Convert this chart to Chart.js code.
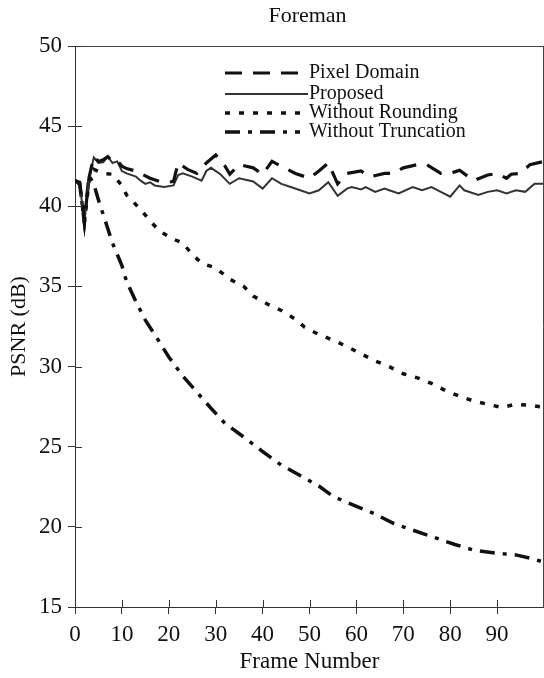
<!DOCTYPE html>
<html>
<head>
<meta charset="utf-8">
<script src="https://cdn.jsdelivr.net/npm/chart.js@4/dist/chart.umd.min.js"></script>
<style>
html,body{margin:0;padding:0;background:#fff;}
#wrap{width:544px;height:678px;}
</style>
</head>
<body>
<div id="wrap"><canvas id="c" width="544" height="678"></canvas></div>
<script>
const chartTitle = 'Foreman';
const xAxisTitle = 'Frame Number';
const yAxisTitle = 'PSNR (dB)';
const seriesNames = ['Pixel Domain', 'Proposed', 'Without Rounding', 'Without Truncation'];
const xTickValues = [0, 10, 20, 30, 40, 50, 60, 70, 80, 90, 100];
const xTickLabels = ['0', '10', '20', '30', '40', '50', '60', '70', '80', '90', ''];
const yTickValues = [15, 20, 25, 30, 35, 40, 45, 50];

const pixelFrames = [0, 1, 2, 3, 4, 5, 6, 7, 8, 9, 10, 11, 13, 16, 18, 20, 21, 22, 24, 26, 28, 30, 32, 33, 35, 38, 40, 42, 44, 47, 50, 52, 54, 55, 56, 58, 61, 63, 66, 68, 70, 73, 75, 78, 80, 82, 85, 88, 90, 92, 93, 95, 97, 100];
const pixelPsnr   = [41.6, 41.5, 39.1, 41.8, 43.1, 42.8, 42.9, 43.1, 42.8, 42.85, 42.5, 42.35, 42.2, 41.75, 41.55, 41.5, 41.55, 42.7, 42.3, 42.05, 42.7, 43.2, 42.5, 42.0, 42.6, 42.4, 42.0, 42.8, 42.5, 42.05, 41.75, 42.2, 42.7, 42.05, 41.4, 42.05, 42.2, 41.85, 42.05, 42.05, 42.4, 42.6, 42.6, 42.05, 42.05, 42.25, 41.6, 41.95, 42.05, 41.75, 42.0, 42.05, 42.6, 42.8];

const proposedFrames = [0, 1, 2, 3, 4, 5, 6, 7, 8, 9, 10, 11, 13, 14, 15, 16, 17, 19, 21, 22, 23, 25, 27, 28, 29, 31, 33, 35, 38, 40, 42, 44, 46, 50, 52, 54, 56, 58, 59, 61, 62, 64, 66, 67, 69, 72, 74, 76, 78, 80, 82, 83, 86, 88, 90, 92, 94, 96, 98, 100];
const proposedPsnr   = [41.5, 41.4, 39.0, 41.7, 43.05, 42.7, 42.75, 43.1, 42.7, 42.8, 42.2, 42.05, 41.85, 41.6, 41.4, 41.5, 41.3, 41.2, 41.3, 41.95, 42.05, 41.85, 41.6, 42.2, 42.4, 42.0, 41.4, 41.75, 41.55, 41.1, 41.75, 41.4, 41.2, 40.8, 41.0, 41.5, 40.65, 41.1, 41.2, 41.05, 41.2, 40.9, 41.1, 41.0, 40.8, 41.2, 41.0, 41.2, 40.9, 40.6, 41.3, 41.0, 40.7, 40.9, 41.0, 40.8, 41.0, 40.9, 41.4, 41.4];

const roundingFrames = [0, 1, 2, 3, 4, 6, 8, 10, 11, 14, 16, 18, 21, 23, 25, 27, 30, 33, 36, 38, 41, 44, 47, 49, 52, 55, 58, 61, 64, 67, 70, 73, 76, 79, 82, 85, 88, 91, 94, 98, 100];
const roundingPsnr   = [41.6, 41.4, 39.0, 41.6, 42.3, 42.05, 42.0, 41.3, 40.7, 39.8, 39.1, 38.45, 37.95, 37.7, 37.0, 36.45, 36.15, 35.45, 35.0, 34.4, 33.9, 33.5, 32.95, 32.45, 32.0, 31.65, 31.25, 30.8, 30.35, 30.0, 29.55, 29.3, 28.95, 28.5, 28.15, 27.85, 27.65, 27.45, 27.65, 27.55, 27.45];

const truncFrames = [0, 1, 2, 3, 4, 5, 6, 7, 8, 10, 11, 13, 15, 17, 20, 23, 26, 29, 32, 36, 40, 44, 48, 52, 55, 59, 64, 68, 72, 76, 81, 85, 90, 94, 97, 100];
const truncPsnr   = [41.6, 41.4, 39.0, 41.9, 41.4, 40.4, 39.5, 38.6, 37.7, 36.3, 35.3, 34.05, 32.9, 32.0, 30.6, 29.4, 28.4, 27.4, 26.45, 25.6, 24.7, 23.85, 23.2, 22.55, 21.9, 21.4, 20.8, 20.2, 19.8, 19.4, 18.9, 18.55, 18.35, 18.25, 18.05, 17.8];

const FONT = "'Liberation Serif', 'Times New Roman', serif";

function pts(fr, vals) { return fr.map((f, i) => ({ x: f, y: vals[i] })); }

const datasets = [
  { label: seriesNames[0], data: pts(pixelFrames, pixelPsnr), borderColor: '#111', borderWidth: 3.2, borderDash: [17, 11] },
  { label: seriesNames[1], data: pts(proposedFrames, proposedPsnr), borderColor: '#333', borderWidth: 2 },
  { label: seriesNames[2], data: pts(roundingFrames, roundingPsnr), borderColor: '#111', borderWidth: 3.5, borderDash: [5, 9] },
  { label: seriesNames[3], data: pts(truncFrames, truncPsnr), borderColor: '#111', borderWidth: 3.5, borderDash: [15, 8, 4, 8] }
];

const decorPlugin = {
  id: 'decor',
  afterDraw(chart) {
    const ctx = chart.ctx;
    const a = chart.chartArea;
    const xs = chart.scales.x, ys = chart.scales.y;
    ctx.save();
    // title
    ctx.fillStyle = '#111';
    ctx.font = '22px ' + FONT;
    ctx.textAlign = 'center';
    ctx.textBaseline = 'middle';
    ctx.fillText(chartTitle, (a.left + a.right) / 2 - 2, 16);
    // frame lines top/right
    ctx.strokeStyle = '#444';
    ctx.lineWidth = 1;
    ctx.beginPath();
    ctx.moveTo(a.left, a.top + 0.5); ctx.lineTo(a.right, a.top + 0.5);
    ctx.moveTo(a.right - 0.5, a.top); ctx.lineTo(a.right - 0.5, a.bottom);
    ctx.stroke();
    // inner tick halves
    ctx.strokeStyle = '#333';
    ctx.beginPath();
    yTickValues.forEach(v => {
      const y = Math.round(ys.getPixelForValue(v)) + 0.5;
      ctx.moveTo(a.left, y); ctx.lineTo(a.left + 7, y);
    });
    xTickValues.forEach(v => {
      const x = Math.round(xs.getPixelForValue(v)) + 0.5;
      ctx.moveTo(x, a.bottom); ctx.lineTo(x, a.bottom - 7);
    });
    ctx.stroke();
    // legend
    const rows = [73, 94, 113, 132];
    const x0 = 225, x1 = 300;
    ctx.font = '20px ' + FONT;
    ctx.textAlign = 'left';
    chart.data.datasets.forEach((ds, i) => {
      const y = rows[i];
      ctx.save();
      ctx.strokeStyle = ds.borderColor;
      ctx.lineWidth = ds.borderWidth;
      ctx.setLineDash(ds.borderDash || []);
      ctx.beginPath();
      ctx.moveTo(x0, y); ctx.lineTo(i === 1 ? 308 : x1, y);
      ctx.stroke();
      ctx.restore();
      ctx.fillStyle = '#111';
      ctx.fillText(ds.label, 309, y);
    });
    ctx.restore();
  }
};

new Chart(document.getElementById('c'), {
  type: 'line',
  data: { datasets },
  plugins: [decorPlugin],
  options: {
    responsive: false,
    animation: false,
    devicePixelRatio: 1,
    layout: { padding: { top: 46, right: 0, left: 0, bottom: 0 } },
    elements: { point: { radius: 0 }, line: { tension: 0, fill: false } },
    plugins: { legend: { display: false }, title: { display: false }, tooltip: { enabled: false } },
    scales: {
      x: {
        type: 'linear', min: 0, max: 100,
        afterFit(s) { s.height = 71; s.paddingRight = 0; s.paddingLeft = 0; },
        afterBuildTicks(s) { s.ticks = xTickValues.map(v => ({ value: v })); },
        ticks: {
          autoSkip: false, maxRotation: 0, padding: 7, color: '#111',
          font: { family: FONT, size: 23 },
          callback: (v) => { const i = xTickValues.indexOf(v); return i >= 0 ? xTickLabels[i] : ''; }
        },
        grid: { drawOnChartArea: false, drawTicks: true, tickLength: 7, color: '#333' },
        border: { display: true, color: '#333', width: 1 },
        title: { display: true, text: xAxisTitle, color: '#111', font: { family: FONT, size: 23 }, padding: { top: 0, bottom: 2 } }
      },
      y: {
        type: 'linear', min: 15, max: 50,
        afterFit(s) { s.width = 75; },
        afterBuildTicks(s) { s.ticks = yTickValues.map(v => ({ value: v })); },
        ticks: { padding: 6, color: '#111', font: { family: FONT, size: 23 } },
        grid: { drawOnChartArea: false, drawTicks: true, tickLength: 7, color: '#333' },
        border: { display: true, color: '#333', width: 1 },
        title: { display: true, text: yAxisTitle, color: '#111', font: { family: FONT, size: 22 }, padding: { top: 6, bottom: 0 } }
      }
    }
  }
});
</script>
</body>
</html>
